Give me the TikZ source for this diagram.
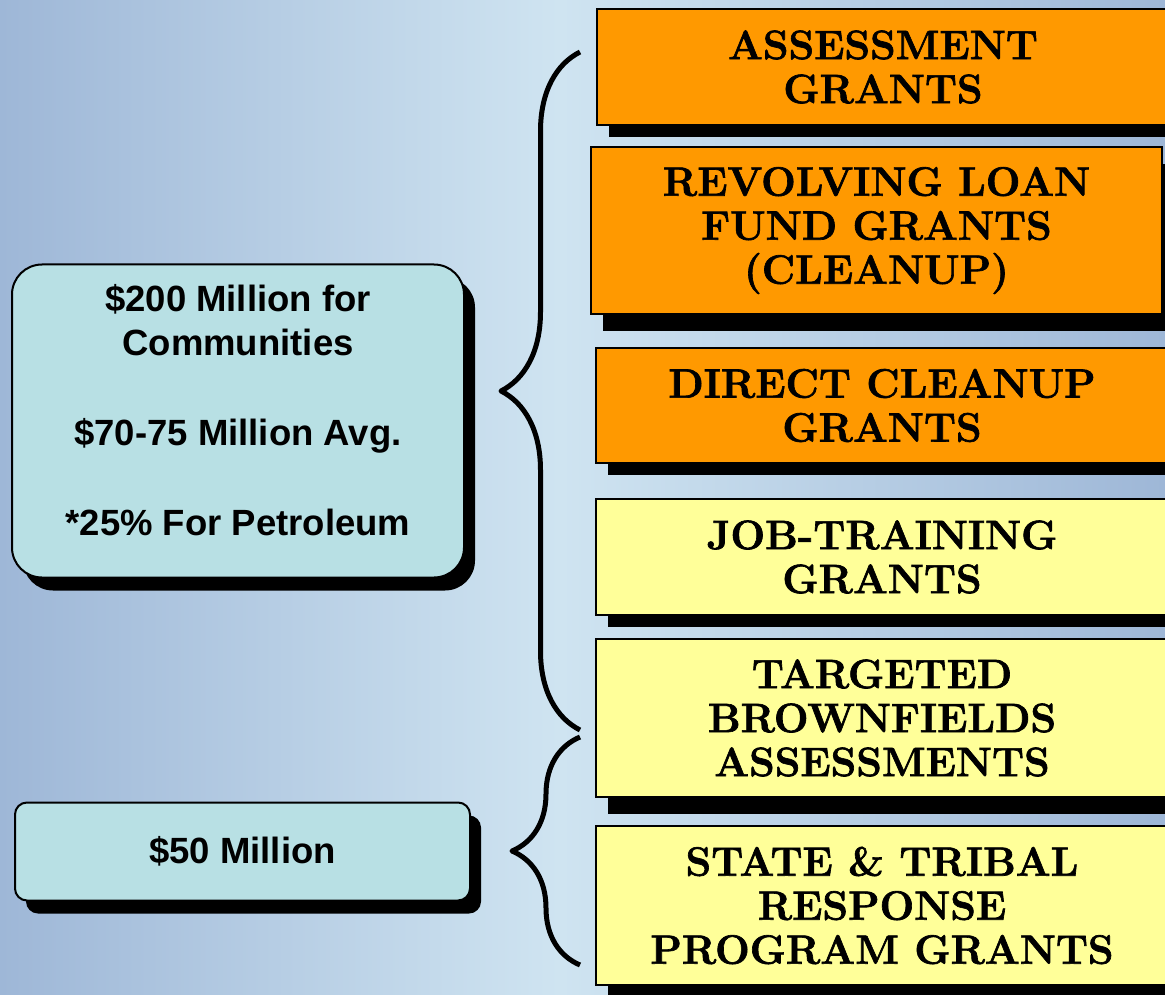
\documentclass[tikz,border=0pt]{standalone}
\usepackage{fontspec}
\newfontfamily\arialbold{Liberation Sans}
\newfontfamily\grantfont[BoldFeatures={FakeBold=1.6}]{Latin Modern Roman}
\usetikzlibrary{positioning,shadows,decorations.pathreplacing}
\definecolor{bgdark}{RGB}{158,183,215}
\definecolor{bglight}{RGB}{207,228,241}
\definecolor{fundcyan}{RGB}{184,224,228}
\definecolor{grantorange}{RGB}{255,153,0}
\definecolor{grantyellow}{RGB}{255,255,153}

\begin{document}
\begin{tikzpicture}[
    x=1pt, y=-1pt,
    fund/.style={draw, line width=2pt, fill=fundcyan, align=center, inner sep=0pt,
      font=\arialbold\bfseries\fontsize{36.5}{44}\selectfont,
      drop shadow={shadow xshift=11pt, shadow yshift=-13pt, fill=black, opacity=1}},
    grant/.style={draw, line width=1.6pt, align=center, inner sep=0pt, outer sep=0pt, anchor=north west,
      minimum width=572pt, font=\grantfont\bfseries\fontsize{41}{44}\selectfont,
      drop shadow={shadow xshift=12pt, shadow yshift=#1, fill=black, opacity=1}},
    grant/.default=-12pt,
    cleanup/.style={grant=#1, fill=grantorange},
    cleanup/.default=-12pt,
    training/.style={grant=#1, fill=grantyellow},
    training/.default=-12pt,
    curly/.style={decorate, line width=5pt, line join=round}
  ]
    \useasboundingbox (0,0) rectangle (1165,995);
    \clip (0,0) rectangle (1165,995);

    % 背景渐变
    \shade[left color=bgdark, right color=bglight] (0,0) rectangle (560,995);
    \shade[left color=bglight, right color=bgdark] (560,0) rectangle (1165,995);

    % 大括号
    \coordinate (upper top) at (580,52);
    \coordinate (upper bottom) at (580,730);
    \coordinate (lower top) at (580,737);
    \coordinate (lower bottom) at (580,965);
    \draw[curly, decoration={brace, amplitude=79pt}] (upper bottom) -- (upper top);
    \draw[curly, decoration={brace, amplitude=68pt}] (lower bottom) -- (lower top);

    % 左侧资金节点
    \node[fund, rounded corners=30pt, minimum width=452pt, minimum height=313pt] (communities) at (238,421)
      {\$200 Million for\\Communities\\[46pt]\$70-75 Million Avg.\\[46pt]*25\% For Petroleum\\[-22pt]\mbox{}};
    \node[fund, rounded corners=12pt, minimum width=455pt, minimum height=98pt,
      below=223pt of communities.south west, anchor=north west, xshift=3pt] (fifty) {\$50 Million};

    % 右侧资助类型
    \node[cleanup, minimum height=116pt] (assess) at (597,9) {ASSESSMENT\\GRANTS};
    \node[cleanup=-17pt, minimum width=571pt, minimum height=167pt,
      below=22pt of assess.south west, anchor=north west, xshift=-6pt] (rlf) {REVOLVING LOAN\\FUND GRANTS\\(CLEANUP)};
    \node[cleanup, minimum height=115pt,
      below=34pt of rlf.south west, anchor=north west, xshift=5pt] (direct) {DIRECT CLEANUP\\GRANTS};
    \node[training, minimum height=116pt,
      below=36pt of direct.south west, anchor=north west] (job) {JOB-TRAINING\\GRANTS};
    \node[training=-17pt, minimum height=158pt,
      below=24pt of job.south west, anchor=north west] (targeted) {TARGETED\\BROWNFIELDS\\ASSESSMENTS};
    \node[training, minimum height=159pt,
      below=29pt of targeted.south west, anchor=north west] (state) {STATE \& TRIBAL\\RESPONSE\\PROGRAM GRANTS};

  \end{tikzpicture}
\end{document}
